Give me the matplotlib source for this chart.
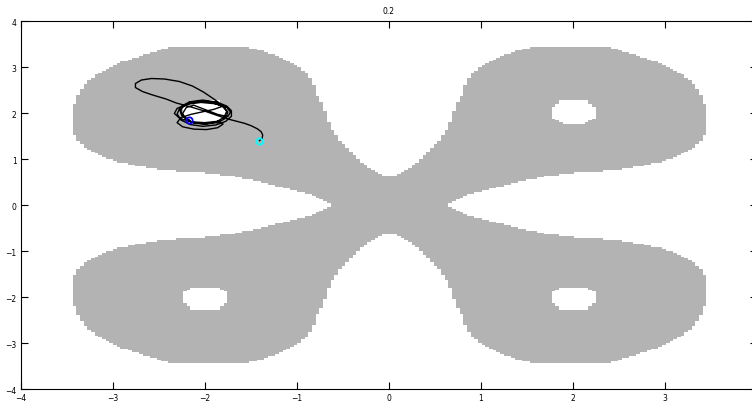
#!/usr/bin/env python3
import numpy as np
import matplotlib
matplotlib.use('Agg')
import matplotlib.pyplot as plt
from matplotlib.path import Path

# allowed region: top-left quarter, mirrored into the other three quadrants
lobe_x = [0.0, 0.0, -0.101, -0.210, -0.318, -0.427, -0.536, -0.608, -0.681, -0.717,
          -0.790, -0.827, -0.899, -1.008, -1.188, -1.370, -1.551, -2.384, -2.566, -2.818,
          -3.072, -3.253, -3.362, -3.416, -3.434, -3.434, -3.380, -3.290, -3.109, -2.927,
          -2.637, -2.384, -2.058, -1.732, -1.369, -1.080, -0.825, -0.681, -0.645]
lobe_y = [0.0, 0.637, 0.674, 0.783, 0.963, 1.174, 1.391, 1.580, 1.870, 2.159,
          2.376, 2.667, 2.884, 3.029, 3.211, 3.354, 3.428, 3.428, 3.320, 3.174,
          2.957, 2.739, 2.485, 2.267, 2.015, 1.543, 1.398, 1.217, 1.036, 0.928,
          0.819, 0.746, 0.711, 0.637, 0.493, 0.348, 0.202, 0.057, 0.0]

# hole around the well bottom (top-left quadrant)
hole_x = [-2.14, -1.86, -1.77, -1.77, -1.87, -2.13, -2.23, -2.23]
hole_y = [2.27, 2.27, 2.12, 1.91, 1.78, 1.78, 1.91, 2.12]

# trajectory
traj = [(-1.405, 1.398), (-1.376, 1.450), (-1.370, 1.522), (-1.387, 1.593), (-1.424, 1.652),
        (-1.496, 1.724), (-1.568, 1.776), (-1.677, 1.833), (-1.750, 1.870), (-1.862, 1.946),
        (-2.003, 2.043), (-2.166, 2.141), (-2.308, 2.217), (-2.420, 2.304), (-2.565, 2.391),
        (-2.677, 2.467), (-2.753, 2.554), (-2.753, 2.641), (-2.688, 2.717), (-2.579, 2.750),
        (-2.438, 2.739), (-2.276, 2.685), (-2.134, 2.587), (-2.015, 2.457), (-1.917, 2.326),
        (-1.841, 2.217),
        (-1.76, 2.15), (-1.71, 2.05), (-1.71, 1.93), (-1.77, 1.82), (-1.88, 1.74), (-2.02, 1.71),
        (-2.16, 1.75), (-2.26, 1.85), (-2.30, 1.98), (-2.27, 2.11), (-2.17, 2.21), (-2.03, 2.26),
        (-1.90, 2.24),
        (-1.80, 2.16), (-1.76, 2.04), (-1.79, 1.91), (-1.87, 1.81), (-1.99, 1.76), (-2.12, 1.78),
        (-2.21, 1.87), (-2.24, 1.99), (-2.20, 2.12), (-2.12, 2.17),
        (-1.86, 1.97), (-1.75, 1.92), (-1.72, 2.02), (-1.76, 2.12), (-1.88, 2.20), (-2.04, 2.23),
        (-2.19, 2.19), (-2.30, 2.10), (-2.33, 1.99), (-2.27, 1.88), (-2.15, 1.81), (-2.00, 1.79),
        (-1.86, 1.82),
        (-1.80, 1.76), (-1.86, 1.68), (-1.98, 1.64), (-2.12, 1.65), (-2.24, 1.70), (-2.30, 1.79),
        (-2.26, 1.90), (-2.15, 1.97),
        (-1.90, 2.08), (-1.80, 2.15), (-1.88, 2.24), (-2.02, 2.28), (-2.16, 2.25), (-2.25, 2.15),
        (-2.26, 2.02), (-2.23, 1.92),
        (-2.14, 1.80), (-2.00, 1.76), (-1.86, 1.79), (-1.77, 1.89), (-1.75, 2.02), (-1.81, 2.15),
        (-1.94, 2.24), (-2.08, 2.25), (-2.20, 2.19), (-2.27, 2.07), (-2.25, 1.95), (-2.17, 1.85)]

title = '0.2'
ticks = [-4, -3, -2, -1, 0, 1, 2, 3, 4]
# the label at x = 4 falls outside the cropped figure
xlabels = ['\u22124', '\u22123', '\u22122', '\u22121', '0', '1', '2', '3', '']

fig = plt.figure(figsize=(7.52, 4.06), dpi=100)
ax = fig.add_axes([0.0275, 0.0394, 0.979, 0.9064])

# rasterise the region on a grid, like the original
step = 0.04
xs = np.arange(-4 + step / 2, 4, step)
X, Y = np.meshgrid(xs, xs)
pts = np.column_stack([-np.abs(X).ravel(), np.abs(Y).ravel()])
lobe = Path(np.column_stack([lobe_x, lobe_y]))
hole = Path(np.column_stack([hole_x, hole_y]))
inside = lobe.contains_points(pts) & ~hole.contains_points(pts)
img = np.where(inside, 0.7, 1.0).reshape(X.shape)
ax.imshow(img, cmap='gray', vmin=0, vmax=1, extent=(-4, 4, -4, 4), origin='lower',
          interpolation='nearest', aspect='auto')

t = np.array(traj)
ax.plot(t[:, 0], t[:, 1], color='black', lw=1.0)
ax.plot(t[0, 0], t[0, 1], 'o', mfc='none', mec='cyan', ms=4.5, mew=1.3)
ax.plot(t[-1, 0], t[-1, 1], 'o', mfc='none', mec='blue', ms=4.5, mew=1.3)

ax.set_xlim(-4, 4)
ax.set_ylim(-4, 4)
ax.set_xticks(ticks)
ax.set_xticklabels(xlabels)
ax.set_yticks(ticks)
ax.tick_params(direction='in', top=True, right=True, length=5, width=0.8,
               labelsize=5.5, pad=3)
for s in ax.spines.values():
    s.set_linewidth(0.8)
ax.set_title(title, fontsize=5.5, pad=6)

fig.savefig('out.png', dpi=100)
